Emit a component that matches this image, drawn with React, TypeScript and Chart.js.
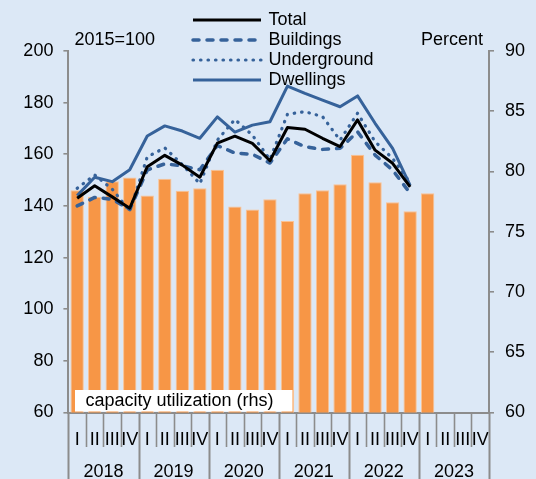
import { useEffect, useRef } from 'react';
import { Chart, registerables } from 'chart.js';

Chart.register(...registerables);

const years = ['2018', '2019', '2020', '2021', '2022', '2023'];
const quarterNames = ['I', 'II', 'III', 'IV'];

const total = [143, 147.8, 143.5, 139.1, 155.2, 159.6, 155.8, 151.1, 164.3, 167, 164.2, 157.5, 170.4, 169.7, 166.2, 163, 173.3, 161.6, 156.5, 147.4];
const buildings = [140, 143.3, 142.6, 138.6, 153.9, 156.3, 155.5, 154, 163.4, 160.5, 160, 156.6, 166, 162.9, 161.9, 162.3, 168.7, 159.7, 153.9, 144.9];
const underground = [146.8, 152, 146.5, 138, 159, 162.5, 156, 148.6, 165.5, 173.5, 167.4, 158, 175.5, 176.5, 174.6, 165.5, 175.9, 164.9, 158.4, 149];
const dwellings = [144, 151.1, 149.4, 154, 167.1, 171, 169, 166.2, 174.5, 168.6, 171.3, 172.6, 186.4, 183.6, 181, 178.4, 182.6, 172, 162.3, 148];
const capacity = [78.45, 77.9, 79.2, 79.5, 78.0, 79.4, 78.4, 78.6, 80.15, 77.1, 76.85, 77.7, 75.9, 78.2, 78.45, 78.95, 81.4, 79.1, 77.45, 76.7, 78.2];

const leftTicks = { min: 60, max: 200, step: 20 };
const rightTicks = { min: 60, max: 90, step: 5 };

const labels: string[] = [];
years.forEach(() => quarterNames.forEach((q) => labels.push(q)));

const FONT = '"Liberation Sans", Arial, sans-serif';
const BG = '#dce8f6';
const BLUE = '#36629a';
const ORANGE = '#f79646';
const GRAY = '#8c8c8c';

const seriesStyles = [
  { label: 'Total', data: total, color: '#000000', dash: [] as number[], cap: 'butt', width: 3 },
  { label: 'Buildings', data: buildings, color: BLUE, dash: [6, 8], cap: 'round', width: 3.5 },
  { label: 'Underground', data: underground, color: BLUE, dash: [0.5, 7], cap: 'round', width: 3.2 },
  { label: 'Dwellings', data: dwellings, color: BLUE, dash: [] as number[], cap: 'butt', width: 3 },
];

const overlayPlugin = {
  id: 'overlay',
  afterDraw(chart: any) {
    const ctx = chart.ctx as CanvasRenderingContext2D;
    const area = chart.chartArea;
    const n = labels.length;
    const w = (area.right - area.left) / n;
    ctx.save();
    ctx.font = `18px ${FONT}`;
    ctx.fillStyle = '#000';

    // capacity utilization label box
    ctx.fillStyle = '#ffffff';
    ctx.fillRect(area.left + 6.6, 390, 217.5, 21.5);
    ctx.fillStyle = '#000';
    ctx.textBaseline = 'middle';
    ctx.textAlign = 'left';
    ctx.fillText('capacity utilization (rhs)', area.left + 17, 401);

    // axis headers
    ctx.fillText('2015=100', 74.5, 40);
    ctx.textAlign = 'right';
    ctx.fillText('Percent', 483, 40);

    // legend
    ctx.textAlign = 'left';
    seriesStyles.forEach((s, i) => {
      const y = 20 + i * 20;
      ctx.beginPath();
      ctx.strokeStyle = s.color;
      ctx.lineWidth = s.width;
      ctx.lineCap = s.cap as CanvasLineCap;
      ctx.setLineDash(s.dash);
      ctx.moveTo(193, y);
      ctx.lineTo(261, y);
      ctx.stroke();
      ctx.setLineDash([]);
      ctx.fillStyle = '#000';
      ctx.fillText(s.label, 268.5, y);
    });

    // category separators below axis
    ctx.strokeStyle = GRAY;
    ctx.lineCap = 'butt';
    for (let k = 0; k <= n; k++) {
      const x = Math.round(area.left + k * w) + 0.5;
      ctx.beginPath();
      ctx.lineWidth = k % 4 === 0 ? 2 : 1.6;
      ctx.moveTo(x, area.bottom);
      ctx.lineTo(x, k % 4 === 0 ? 479 : 447);
      ctx.stroke();
    }
    // year labels
    ctx.textAlign = 'center';
    ctx.fillStyle = '#000';
    years.forEach((yr, j) => {
      ctx.fillText(yr, area.left + w * (4 * j + 2), 472);
    });
    ctx.restore();
  },
};

export default function App() {
  const ref = useRef<HTMLCanvasElement>(null);
  useEffect(() => {
    document.body.style.margin = '0';
    Chart.defaults.font.family = FONT;
    const lineSets = seriesStyles.map((s, i) => ({
      type: 'line' as const,
      label: s.label,
      data: s.data,
      yAxisID: 'y',
      borderColor: s.color,
      borderWidth: s.width,
      borderDash: s.dash,
      borderCapStyle: s.cap,
      borderJoinStyle: 'round',
      pointRadius: 0,
      tension: 0,
      fill: false,
      order: i === 0 ? 0 : 4 - i,
    }));
    const chart = new Chart(ref.current as HTMLCanvasElement, {
      data: {
        labels,
        datasets: [
          ...lineSets,
          {
            type: 'bar' as const,
            label: 'capacity utilization (rhs)',
            data: capacity,
            yAxisID: 'y1',
            backgroundColor: ORANGE,
            borderColor: '#fbc293',
            borderWidth: 1,
            barPercentage: 0.76,
            categoryPercentage: 1,
            order: 10,
          },
        ] as any,
      },
      options: {
        responsive: false,
        devicePixelRatio: 1,
        animation: false,
        layout: { padding: { top: 51, left: 0, right: 0, bottom: 0 } },
        plugins: { legend: { display: false }, tooltip: { enabled: false } },
        scales: {
          x: {
            type: 'category',
            offset: true,
            grid: { display: false, drawTicks: false },
            border: { display: true, color: GRAY, width: 2 },
            ticks: { font: { size: 18, family: FONT }, color: '#000', padding: 17, maxRotation: 0, autoSkip: false },
            afterFit: (s: any) => { s.height = 66.5; },
          },
          y: {
            position: 'left',
            min: leftTicks.min,
            max: leftTicks.max,
            ticks: { stepSize: leftTicks.step, font: { size: 18, family: FONT }, color: '#000', padding: 10 },
            grid: { drawOnChartArea: false, color: GRAY, lineWidth: 1.6, tickLength: 5 },
            border: { display: true, color: GRAY, width: 2 },
            afterFit: (s: any) => { s.width = 68.4; },
          },
          y1: {
            position: 'right',
            min: rightTicks.min,
            max: rightTicks.max,
            ticks: { stepSize: rightTicks.step, font: { size: 18, family: FONT }, color: '#000', padding: 11 },
            grid: { drawOnChartArea: false, color: GRAY, lineWidth: 1.6, tickLength: 5 },
            border: { display: true, color: GRAY, width: 2 },
            afterFit: (s: any) => { s.width = 47; },
          },
        },
      } as any,
      plugins: [overlayPlugin],
    });
    return () => chart.destroy();
  }, []);
  return (
    <div style={{ position: 'fixed', left: 0, top: 0, width: 536, height: 479, background: BG }}>
      <canvas ref={ref} width={536} height={479} style={{ display: 'block', width: 536, height: 479 }} />
    </div>
  );
}
